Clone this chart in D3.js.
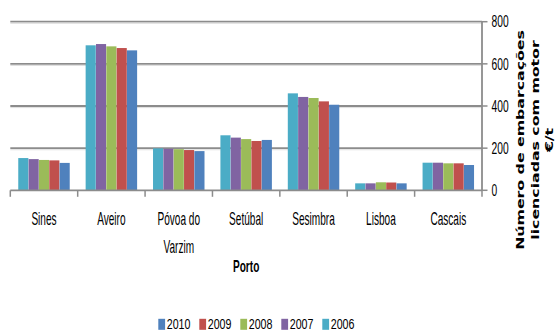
<!DOCTYPE html>
<html>
<head>
<meta charset="utf-8">
<script src="https://cdn.jsdelivr.net/npm/d3@7"></script>
<style>
  html, body { margin: 0; padding: 0; background: #fff; }
  svg { display: block; }
</style>
</head>
<body>
<svg id="chart" width="558" height="333"></svg>
<script>
// Ports (x categories) and yearly series
const ports = ["Sines", "Aveiro", "Póvoa do Varzim", "Setúbal", "Sesimbra", "Lisboa", "Cascais"];
const years = ["2006", "2007", "2008", "2009", "2010"];
const v2006 = [153, 688, 199, 261, 460, 33, 131];
const v2007 = [148, 694, 197, 250, 443, 33, 131];
const v2008 = [144, 683, 195, 243, 438, 38, 128];
const v2009 = [142, 675, 191, 234, 422, 37, 128];
const v2010 = [130, 664, 186, 239, 406, 33, 120];
const yTicks = [0, 200, 400, 600, 800];
const legendOrder = ["2010", "2009", "2008", "2007", "2006"];
const xTitle = "Porto";
const yTitleLines = ["Número de embarcações", "licenciadas com motor", "€/t"];

const seriesValues = { "2006": v2006, "2007": v2007, "2008": v2008, "2009": v2009, "2010": v2010 };
const colors = { "2006": "#4BACC6", "2007": "#8064A2", "2008": "#9BBB59", "2009": "#C0504D", "2010": "#4F81BD" };

const svg = d3.select("#chart");
const plot = { left: 10.3, right: 482, top: 21.7, bottom: 190.3 };

const x = d3.scaleBand().domain(ports).range([plot.left, plot.right])
  .paddingInner(0.23).paddingOuter(0.115);
const xs = d3.scaleBand().domain(years).range([0, x.bandwidth()]).padding(0.02);
const y = d3.scaleLinear().domain([0, 800]).range([plot.bottom, plot.top]);

const gridColor = "#8c8c8c";

// horizontal gridlines
svg.append("g").selectAll("line").data(yTicks.filter(d => d > 0)).join("line")
  .attr("x1", plot.left).attr("x2", plot.right)
  .attr("y1", d => y(d)).attr("y2", d => y(d))
  .attr("stroke", gridColor).attr("stroke-width", 1.8);
svg.append("g").selectAll("line").data(yTicks.filter(d => d > 0)).join("line")
  .attr("x1", plot.left).attr("x2", plot.right)
  .attr("y1", d => y(d) + 1.6).attr("y2", d => y(d) + 1.6)
  .attr("stroke", "#dedede").attr("stroke-width", 1);

// bars
const rows = ports.map((p, i) => ({ port: p, values: years.map(yr => ({ year: yr, value: seriesValues[yr][i] })) }));
const groups = svg.append("g").selectAll("g").data(rows).join("g")
  .attr("transform", d => `translate(${x(d.port)},0)`);
groups.selectAll("rect").data(d => d.values).join("rect")
  .attr("x", d => xs(d.year))
  .attr("width", xs.bandwidth())
  .attr("y", d => y(d.value))
  .attr("height", d => y(0) - y(d.value))
  .attr("fill", d => colors[d.year]);

// helper: text with horizontal compression around its anchor point
function squishText(parent, tx, ty, sx, str) {
  return parent.append("text")
    .attr("transform", `translate(${tx},${ty}) scale(${sx},1)`)
    .text(str);
}

// bottom axis line + ticks at category boundaries
const xAxisG = svg.append("g");
xAxisG.append("line")
  .attr("x1", plot.left).attr("x2", plot.right)
  .attr("y1", plot.bottom).attr("y2", plot.bottom)
  .attr("stroke", gridColor).attr("stroke-width", 1.8);
const boundaries = ports.map(p => x(p) - x.step() * x.paddingOuter()).concat([plot.right]);
xAxisG.selectAll("line.tick").data(boundaries).join("line").attr("class", "tick")
  .attr("x1", d => d).attr("x2", d => d)
  .attr("y1", plot.bottom).attr("y2", plot.bottom + 6.5)
  .attr("stroke", gridColor).attr("stroke-width", 1.5);

// category labels, wrapped
function wrap(name, maxChars) {
  const words = name.split(" ");
  const lines = [];
  let cur = "";
  words.forEach(w => {
    const next = cur ? cur + " " + w : w;
    if (next.length > maxChars && cur) { lines.push(cur); cur = w; } else { cur = next; }
  });
  if (cur) lines.push(cur);
  return lines;
}
const catG = svg.append("g")
  .attr("font-family", "'Liberation Sans', Arial, sans-serif")
  .attr("font-size", 18).attr("fill", "#000").attr("text-anchor", "middle");
ports.forEach(p => {
  wrap(p, 9).forEach((line, k) => {
    squishText(catG, x(p) + x.bandwidth() / 2, 225 + k * 27.5, 0.56, line);
  });
});

// x title
squishText(svg.append("g")
  .attr("font-family", "'Liberation Sans', Arial, sans-serif")
  .attr("font-size", 16.3).attr("font-weight", "bold").attr("text-anchor", "middle"),
  (plot.left + plot.right) / 2, 271.7, 0.62, xTitle);

// right value axis
const yAxisG = svg.append("g");
yAxisG.append("line")
  .attr("x1", plot.right).attr("x2", plot.right)
  .attr("y1", plot.top).attr("y2", plot.bottom)
  .attr("stroke", gridColor).attr("stroke-width", 1.8);
yAxisG.selectAll("line.tick").data(yTicks).join("line").attr("class", "tick")
  .attr("x1", plot.right).attr("x2", plot.right + 5.5)
  .attr("y1", d => y(d)).attr("y2", d => y(d))
  .attr("stroke", gridColor).attr("stroke-width", 1.5);
const yLabG = yAxisG.append("g")
  .attr("font-family", "'Liberation Sans', Arial, sans-serif")
  .attr("font-size", 16).attr("fill", "#000").attr("text-anchor", "start");
yTicks.forEach(t => {
  squishText(yLabG, 491.5, y(t) + 5.7, 0.64, d3.format("d")(t));
});

// rotated value-axis title
const yTitleSx = 0.67;
const yTitleG = svg.append("g")
  .attr("transform", `translate(533,140) rotate(-90) scale(1,${yTitleSx})`)
  .attr("font-family", "'DejaVu Sans', Verdana, sans-serif")
  .attr("font-size", 15.75).attr("font-weight", "bold").attr("text-anchor", "middle");
yTitleLines.forEach((line, k) => {
  yTitleG.append("text")
    .attr("x", 0)
    .attr("y", (k - 1) * (14.5 / yTitleSx) + 5.5 / yTitleSx)
    .text(line);
});

// legend
const legG = svg.append("g")
  .attr("font-family", "'Liberation Sans', Arial, sans-serif")
  .attr("font-size", 15.5).attr("fill", "#000");
legendOrder.forEach((yr, i) => {
  const lx = 158.3 + i * 41;
  legG.append("rect")
    .attr("x", lx).attr("y", 318.8).attr("width", 6.8).attr("height", 11)
    .attr("fill", colors[yr]);
  squishText(legG, lx + 8.4, 329.3, 0.69, yr);
});
</script>
</body>
</html>
